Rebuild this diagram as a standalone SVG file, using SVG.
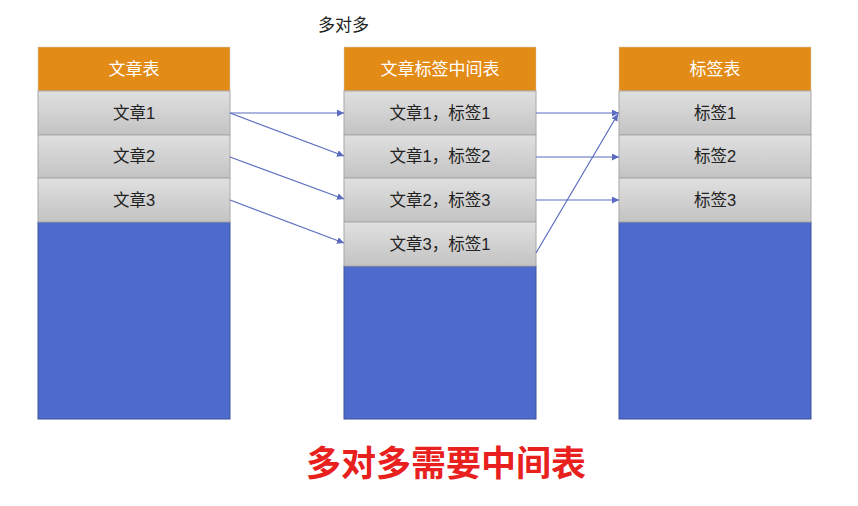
<svg xmlns="http://www.w3.org/2000/svg" width="858" height="506" viewBox="0 0 858 506">
<style>
.hdr{fill:#e38b17;stroke:#c9c9c9;stroke-width:0.5}
.row{fill:url(#g);stroke:#a8a8a8;stroke-width:1}
.body{fill:#4d6bcd;stroke:#3f539a;stroke-width:1}
.ht{font-family:"Liberation Sans","Noto Sans CJK SC",sans-serif;font-size:17px;fill:#ffffff;text-anchor:middle}
.rt{font-family:"Liberation Sans","Noto Sans CJK SC",sans-serif;font-size:16.5px;fill:#222;text-anchor:middle}
.cn{stroke:#5b6cc0;stroke-width:1.2;fill:none;marker-end:url(#ah)}
</style>
<defs>
<linearGradient id="g" x1="0" y1="0" x2="0" y2="1">
<stop offset="0" stop-color="#e0e0e0"/>
<stop offset="1" stop-color="#c3c3c3"/>
</linearGradient>
<marker id="ah" viewBox="0 0 10 10" refX="10" refY="5" markerWidth="7" markerHeight="7" orient="auto" markerUnits="userSpaceOnUse">
<path d="M0,0 L10,5 L0,10 z" fill="#5b6cc0"/>
</marker>
</defs>
<rect width="858" height="506" fill="#ffffff"/>
<text x="318" y="31" font-family="Liberation Sans,Noto Sans CJK SC,sans-serif" font-size="17" fill="#222">多对多</text>

<g id="articles">
<rect class="body" x="38" y="222" width="192" height="197"/>
<rect class="hdr" x="38" y="47" width="192" height="44"/>
<text class="ht" x="134" y="75">文章表</text>
<rect class="row" x="38" y="91" width="192" height="44"/>
<text class="rt" x="134" y="119">文章1</text>
<rect class="row" x="38" y="135" width="192" height="43"/>
<text class="rt" x="134" y="162">文章2</text>
<rect class="row" x="38" y="178" width="192" height="44"/>
<text class="rt" x="134" y="206">文章3</text>
</g>

<g id="mid">
<rect class="body" x="344" y="266" width="192" height="153"/>
<rect class="hdr" x="344" y="47" width="192" height="44"/>
<text class="ht" x="440" y="75">文章标签中间表</text>
<rect class="row" x="344" y="91" width="192" height="44"/>
<text class="rt" x="440" y="119">文章1，标签1</text>
<rect class="row" x="344" y="135" width="192" height="43"/>
<text class="rt" x="440" y="162">文章1，标签2</text>
<rect class="row" x="344" y="178" width="192" height="44"/>
<text class="rt" x="440" y="206">文章2，标签3</text>
<rect class="row" x="344" y="222" width="192" height="44"/>
<text class="rt" x="440" y="250">文章3，标签1</text>
</g>

<g id="tags">
<rect class="body" x="619" y="222" width="192" height="197"/>
<rect class="hdr" x="619" y="47" width="192" height="44"/>
<text class="ht" x="715" y="75">标签表</text>
<rect class="row" x="619" y="91" width="192" height="44"/>
<text class="rt" x="715" y="119">标签1</text>
<rect class="row" x="619" y="135" width="192" height="43"/>
<text class="rt" x="715" y="162">标签2</text>
<rect class="row" x="619" y="178" width="192" height="44"/>
<text class="rt" x="715" y="206">标签3</text>
</g>

<g id="connectors">
<line class="cn" x1="230" y1="113" x2="344" y2="113"/>
<line class="cn" x1="230" y1="113" x2="344" y2="156"/>
<line class="cn" x1="230" y1="157" x2="344" y2="199"/>
<line class="cn" x1="230" y1="200" x2="344" y2="243"/>
<line class="cn" x1="536" y1="113" x2="619" y2="113"/>
<line class="cn" x1="536" y1="157" x2="619" y2="157"/>
<line class="cn" x1="536" y1="200" x2="619" y2="200"/>
<line class="cn" x1="536" y1="253" x2="618" y2="114"/>
</g>

<text x="446" y="476" font-family="Noto Sans CJK SC,sans-serif" font-weight="bold" font-size="35" fill="#e8201e" text-anchor="middle">多对多需要中间表</text>
</svg>
